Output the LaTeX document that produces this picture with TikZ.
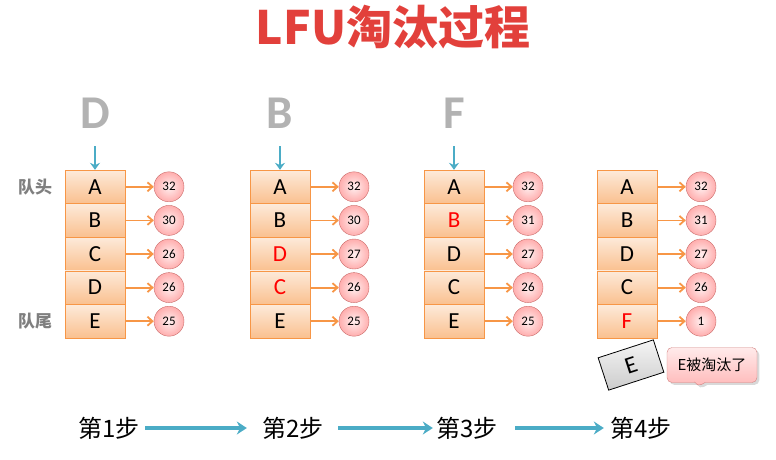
\documentclass[tikz,border=0pt]{standalone}
\usepackage{fontspec}
\setmainfont{Carlito}
\newfontfamily\cjk{Noto Sans CJK SC}
\usetikzlibrary{arrows.meta,shapes.callouts,shadows}

\definecolor{lfuorange}{HTML}{F79646}
\definecolor{lfuboxtop}{HTML}{FDEADA}
\definecolor{lfuboxbot}{HTML}{FAC08F}
\definecolor{lfured}{HTML}{C0504D}
\definecolor{lfublue}{HTML}{4BACC6}
\definecolor{lfugray}{HTML}{7F7F7F}
\definecolor{lfutitle}{HTML}{E2403B}

\tikzset{
	cell/.style = {draw = lfuorange, top color = lfuboxtop, bottom color = lfuboxbot,
		minimum width = 60pt, minimum height = 33.6pt, inner sep = 0pt,
		font = \fontsize{23}{23}\selectfont},
	count/.style = {circle, draw = lfured!85, inner color = red!6, outer color = red!32,
		minimum size = 30pt, inner sep = 0pt, font = \fontsize{13}{13}\selectfont},
	link/.style = {draw = lfuorange, line width = 1.8pt, -{Straight Barb[length = 5pt, width = 9pt]}},
	inarrow/.style = {draw = lfublue, line width = 2.5pt, -{Stealth[length = 7pt, width = 10pt]}},
	steparrow/.style = {draw = lfublue, line width = 3.5pt, -{Stealth[length = 10pt, width = 13pt]}},
	bigletter/.style = {text = gray!60, font = \bfseries\fontsize{47}{47}\selectfont},
	sidelabel/.style = {text = lfugray, font = \cjk\bfseries\fontsize{17}{17}\selectfont},
	steplabel/.style = {font = \cjk\fontsize{24}{24}\selectfont}
}

\begin{document}
\begin{tikzpicture}[x = 1pt, y = -1pt]
	\useasboundingbox (0, 0) rectangle (776, 459);

	%	title
	\node[text = lfutitle, font = \cjk\bfseries\fontsize{46}{46}\selectfont] (title) at (393, 27) {LFU淘汰过程};

	%	incoming keys
	\node[bigletter] (key1) at (95, 113) {D};
	\node[bigletter] (key2) at (280, 113) {B};
	\node[bigletter] (key3) at (454, 113) {F};

	%	queue head and tail
	\node[sidelabel] (head) at (35, 187) {队头};
	\node[sidelabel] (tail) at (35, 321) {队尾};

	%	step 1
	\foreach \r/\t/\n/\col in {1/A/32/black, 2/B/30/black, 3/C/26/black, 4/D/26/black, 5/E/25/black}
	{
		\node[cell, text = \col] (c1r\r) at (95, 153.2 + 33.6*\r) {\t};
		\node[count] (n1r\r) at (169, 153.2 + 33.6*\r) {\n};
		\draw[link] (c1r\r) -- (n1r\r);
	}

	%	step 2
	\foreach \r/\t/\n/\col in {1/A/32/black, 2/B/30/black, 3/D/27/red, 4/C/26/red, 5/E/25/black}
	{
		\node[cell, text = \col] (c2r\r) at (280, 153.2 + 33.6*\r) {\t};
		\node[count] (n2r\r) at (354, 153.2 + 33.6*\r) {\n};
		\draw[link] (c2r\r) -- (n2r\r);
	}

	%	step 3
	\foreach \r/\t/\n/\col in {1/A/32/black, 2/B/31/red, 3/D/27/black, 4/C/26/black, 5/E/25/black}
	{
		\node[cell, text = \col] (c3r\r) at (454, 153.2 + 33.6*\r) {\t};
		\node[count] (n3r\r) at (528, 153.2 + 33.6*\r) {\n};
		\draw[link] (c3r\r) -- (n3r\r);
	}

	%	step 4
	\foreach \r/\t/\n/\col in {1/A/32/black, 2/B/31/black, 3/D/27/black, 4/C/26/black, 5/F/1/red}
	{
		\node[cell, text = \col] (c4r\r) at (627, 153.2 + 33.6*\r) {\t};
		\node[count] (n4r\r) at (701, 153.2 + 33.6*\r) {\n};
		\draw[link] (c4r\r) -- (n4r\r);
	}

	%	keys go in at the head
	\coordinate (in1) at (95, 146);
	\coordinate (in2) at (280, 146);
	\coordinate (in3) at (454, 146);
	\draw[inarrow] (in1) -- (c1r1);
	\draw[inarrow] (in2) -- (c2r1);
	\draw[inarrow] (in3) -- (c3r1);

	%	evicted entry
	\node[draw = black, thick, rotate = 18, top color = gray!8, bottom color = gray!40,
		minimum width = 58pt, minimum height = 34pt, font = \fontsize{24}{24}\selectfont] (evicted) at (631, 365) {E};
	\node[rectangle callout, rounded corners = 5pt, draw = lfured!70, top color = red!8, bottom color = red!28,
		callout absolute pointer = {(697, 387)}, callout pointer width = 10pt,
		minimum width = 90pt, minimum height = 35pt, drop shadow = {opacity = 0.3},
		font = \cjk\fontsize{15}{15}\selectfont] (note) at (712, 365) {E被淘汰了};

	%	steps
	\node[steplabel] (s1) at (109, 428) {第1步};
	\node[steplabel] (s2) at (293, 428) {第2步};
	\node[steplabel] (s3) at (467, 428) {第3步};
	\node[steplabel] (s4) at (641, 428) {第4步};
	\draw[steparrow, shorten < = 2pt, shorten > = 12pt] (s1) -- (s2);
	\draw[steparrow, shorten < = 11pt, shorten > = 0pt] (s2) -- (s3);
	\draw[steparrow, shorten < = 14pt, shorten > = 3pt] (s3) -- (s4);
\end{tikzpicture}
\end{document}
